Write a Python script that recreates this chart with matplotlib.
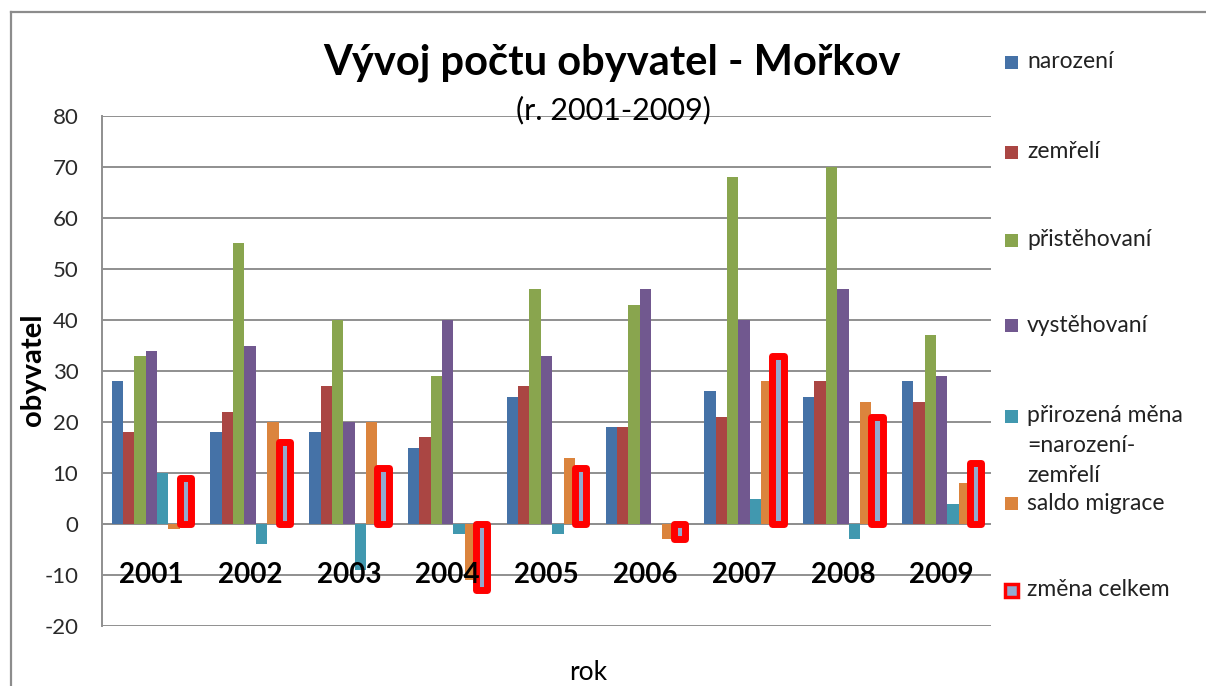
import numpy as np
import matplotlib.pyplot as plt
from matplotlib.patches import Rectangle
from matplotlib.lines import Line2D

plt.rcParams['font.family'] = ['Lato', 'DejaVu Sans']
plt.rcParams['axes.unicode_minus'] = False

roky = ['2001', '2002', '2003', '2004', '2005', '2006', '2007', '2008', '2009']
narozeni = [28, 18, 18, 15, 25, 19, 26, 25, 28]
zemreli = [18, 22, 27, 17, 27, 19, 21, 28, 24]
pristehovani = [33, 55, 40, 29, 46, 43, 68, 70, 37]
vystehovani = [34, 35, 20, 40, 33, 46, 40, 46, 29]
prirozena = [10, -4, -9, -2, -2, 0, 5, -3, 4]
saldo = [-1, 20, 20, -11, 13, -3, 28, 24, 8]
zmena = [9, 16, 11, -13, 11, -3, 33, 21, 12]

serie = [narozeni, zemreli, pristehovani, vystehovani, prirozena, saldo, zmena]
nazvy = ['narození', 'zemřelí', 'přistěhovaní', 'vystěhovaní',
         'přirozená měna', 'saldo migrace', 'změna celkem']
barvy = ['#4572a7', '#aa4643', '#89a54e', '#71588f', '#4198af', '#db843d', '#93a9cf']

W, H = 1206, 686
fig = plt.figure(figsize=(W / 100, H / 100), dpi=100)
ax = fig.add_axes([102 / W, 1 - 626 / H, (991 - 102) / W, (626 - 116) / H])

x = np.arange(len(roky))
w = 0.115
for i, (vals, col) in enumerate(zip(serie, barvy)):
	pos = x + (i - 3) * w
	if i == 6:
		ax.bar(pos, vals, w, color=col, edgecolor='#ff0000', linewidth=5,
		       joinstyle='round', zorder=3)
	else:
		ax.bar(pos, vals, w, color=col, edgecolor='none', zorder=3)

ax.set_xlim(-0.5, 8.5)
ax.set_ylim(-20, 80)
ax.set_yticks(range(-20, 81, 10))
ax.yaxis.grid(True, color='#8f8f8f', linewidth=1.4)
ax.set_axisbelow(True)
for s in ['top', 'right', 'bottom']:
	ax.spines[s].set_visible(False)
ax.spines['left'].set_color('#8f8f8f')
ax.spines['left'].set_linewidth(1.4)
ax.set_xticks([])
ax.tick_params(axis='y', length=0, labelsize=16, pad=17, colors='#2a2a2a')
ax.axhline(0, color='#8f8f8f', linewidth=1.4, zorder=2)

# popisky roku uvnitr grafu
for xi, r in zip(x, roky):
	ax.text(xi, -10, r, ha='center', va='center', fontsize=20, fontweight='bold', zorder=4)

fig.text(612 / W, 1 - 63 / H, 'Vývoj počtu obyvatel - Mořkov', ha='center', va='center',
         fontsize=30, fontweight='bold')
fig.text(613 / W, 1 - 110 / H, '(r. 2001-2009)', ha='center', va='center', fontsize=22)
fig.text(33 / W, 1 - 370 / H, 'obyvatel', ha='center', va='center', rotation=90,
         fontsize=21, fontweight='bold')
fig.text(588 / W, 1 - 672 / H, 'rok', ha='center', va='center', fontsize=19)

# legenda
leg_y = [62, 152, 240, 325, 416, 503, 590]
for nazev, col, yy in zip(nazvy, barvy, leg_y):
	if nazev == 'změna celkem':
		fig.patches.append(Rectangle((1005 / W, 1 - (yy + 7) / H), 13 / W, 13 / H,
		                             facecolor=col, edgecolor='#ff0000', linewidth=2.5,
		                             transform=fig.transFigure, figure=fig))
	else:
		fig.patches.append(Rectangle((1005 / W, 1 - (yy + 6.5) / H), 13 / W, 13 / H,
		                             facecolor=col, edgecolor='none',
		                             transform=fig.transFigure, figure=fig))
	fig.text(1027 / W, 1 - yy / H, nazev, ha='left', va='center', fontsize=16.5, color='#222222')
fig.text(1027 / W, 1 - 445 / H, '=narození-', ha='left', va='center', fontsize=16.5, color='#222222')
fig.text(1027 / W, 1 - 476 / H, 'zemřelí', ha='left', va='center', fontsize=16.5, color='#222222')

# ramecek kolem grafu (jen levy a horni okraj je videt)
fig.add_artist(Line2D([11 / W, 11 / W], [0, 1 - 12 / H], color='#8c8c8c', linewidth=1.6))
fig.add_artist(Line2D([11 / W, 1], [1 - 12 / H, 1 - 12 / H], color='#8c8c8c', linewidth=1.6))

fig.savefig('out.png', dpi=100)
